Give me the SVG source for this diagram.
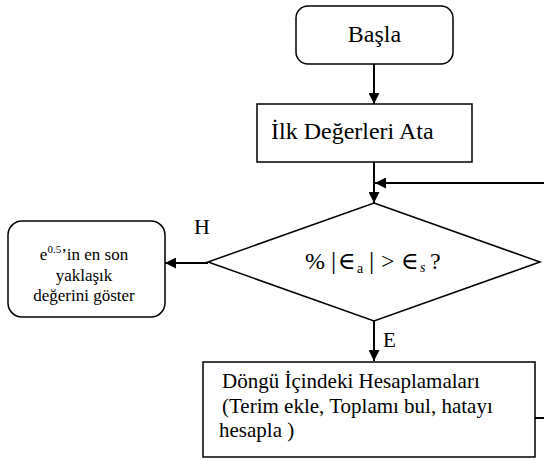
<svg xmlns="http://www.w3.org/2000/svg" width="544" height="461" viewBox="0 0 544 461">
<style>
.box{fill:#fff;stroke:#000;stroke-width:1.5}
.con{fill:none;stroke:#000;stroke-width:2}
text{font-family:"Liberation Serif","DejaVu Serif",serif;fill:#000}
.big{font-size:24px}
.mid{font-size:21px}
.sm{font-size:17px}
</style>
<defs>
<marker id="ah" viewBox="0 0 10 10" refX="10" refY="5" markerWidth="11" markerHeight="11" markerUnits="userSpaceOnUse" orient="auto">
<path d="M0,0 L10,5 L0,10 z" fill="#000"/>
</marker>
</defs>
<rect width="544" height="461" fill="#fff"/>
<g id="connectors">
<line class="con" x1="374" y1="64" x2="374" y2="104" marker-end="url(#ah)"/>
<line class="con" x1="374" y1="162" x2="374" y2="203" marker-end="url(#ah)"/>
<polyline class="con" points="535,418 550,418 550,183 375,183" marker-end="url(#ah)"/>
<line class="con" x1="208" y1="263" x2="165" y2="263" marker-end="url(#ah)"/>
<line class="con" x1="374" y1="321" x2="374" y2="361" marker-end="url(#ah)"/>
<text x="194" y="234" font-size="22">H</text>
<text x="383" y="347" font-size="21">E</text>
</g>
<g id="basla">
<rect class="box" x="296" y="6" width="157" height="58" rx="12"/>
<text class="big" x="374.5" y="42" text-anchor="middle" font-size="25">Başla</text>
</g>
<g id="ilk">
<rect class="box" x="257" y="104" width="215" height="58"/>
<text class="big" x="271" y="139" font-size="26">İlk Değerleri Ata</text>
</g>
<g id="karar">
<polygon class="box" points="374,203 540,262 374,321 208,262"/>
<text class="big" y="269"><tspan x="305">%</tspan><tspan x="331" font-size="26">|</tspan><tspan x="338">∈</tspan><tspan x="357" y="273" font-size="14">a</tspan><tspan x="369" y="269" font-size="26">|</tspan><tspan x="381">&gt;</tspan><tspan x="401">∈</tspan><tspan x="420" y="272" font-size="14" font-style="italic">s</tspan><tspan x="430" y="269">?</tspan></text>
</g>
<g id="goster">
<rect class="box" x="8" y="221" width="157" height="96" rx="14"/>
<text class="sm" x="84" y="260" text-anchor="middle">e<tspan font-size="11" dy="-7">0.5</tspan><tspan dy="7">’in en son</tspan></text>
<text class="sm" x="84" y="281" text-anchor="middle">yaklaşık</text>
<text class="sm" x="84" y="301" text-anchor="middle">değerini göster</text>
</g>
<g id="dongu">
<rect class="box" x="203" y="362" width="332" height="95"/>
<text class="mid" x="222" y="388">Döngü İçindeki Hesaplamaları</text>
<text class="mid" x="222" y="413"> (Terim ekle, Toplamı bul, hatayı</text>
<text class="mid" x="219" y="437">hesapla )</text>
</g>
</svg>
